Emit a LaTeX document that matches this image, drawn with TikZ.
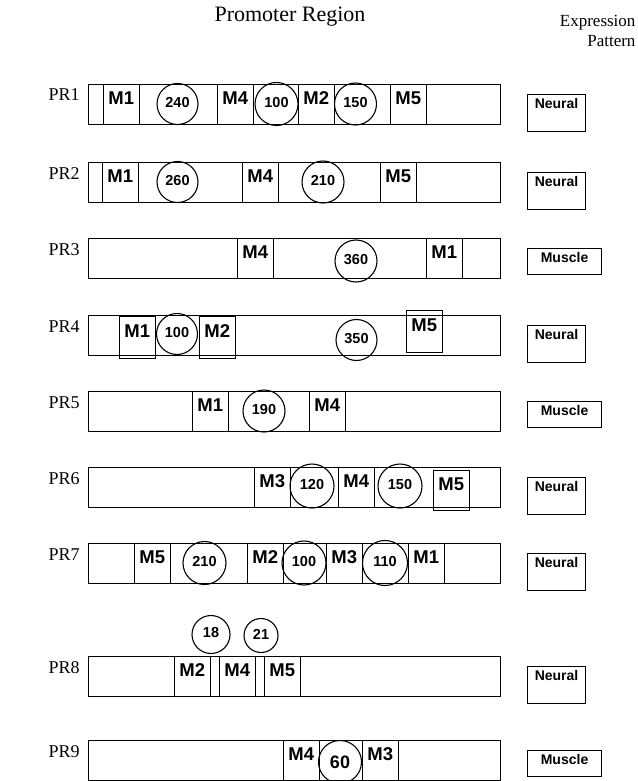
\documentclass[tikz,border=0pt]{standalone}
\usepackage{fontspec}
\setmainfont{Liberation Serif}
\setsansfont{Liberation Sans}
\usetikzlibrary{positioning}

\tikzset{
  bar/.style={draw, anchor=north west, minimum width=412pt, minimum height=40pt, inner sep=0pt},
  motifbox/.style={draw, anchor=north west, minimum width=35.5pt, minimum height=40pt, inner sep=0pt,
    text height=14pt, text depth=14pt, font=\sffamily\bfseries\fontsize{18.5}{20}\selectfont},
  site/.style={draw, circle, inner sep=0pt, minimum size=42pt, text depth=3pt,
    font=\sffamily\bfseries\fontsize{14.5}{16}\selectfont},
  prlabel/.style={anchor=base west, inner sep=0pt, font=\fontsize{18}{20}\selectfont},
  head/.style={inner sep=0pt, font=\fontsize{17}{20}\selectfont},
  neural/.style={draw, anchor=north west, minimum width=58pt, minimum height=37pt, inner sep=0pt,
    text height=11pt, text depth=20pt, font=\sffamily\bfseries\fontsize{14}{16}\selectfont},
  muscle/.style={draw, anchor=north west, minimum width=74pt, minimum height=26pt, inner sep=0pt,
    text height=11pt, text depth=10pt, font=\sffamily\bfseries\fontsize{14}{16}\selectfont}
}

\begin{document}
\begin{tikzpicture}[x=1pt, y=-1pt, line width=1.1pt]
  \useasboundingbox (0,0) rectangle (637,781);

  % headings
  \node[head, anchor=base, font=\fontsize{22}{24}\selectfont] (promoter) at (290,22) {Promoter Region};
  \node[head, anchor=base east] (expr) at (636,27) {Expression};
  \node[head, anchor=base east] (patt) at (636,47) {Pattern};

  % promoter bars
  \foreach \r/\t in {1/84, 2/162, 3/238, 4/315, 5/391, 6/467, 7/543, 8/656, 9/740} {
    \node[bar] (bar\r) at (88,\t) {};
    \node[prlabel] (pr\r) at (48,\t+17) {PR\r};
  }

  % PR1
  \foreach \n/\x in {1/103, 4/217, 2/298, 5/390}
    \node[motifbox] (pr1m\n) at (\x,84) {M\n};
  \node[site, minimum size=41pt] (pr1a) at (177.5,104) {240};
  \node[site, minimum size=43pt] (pr1b) at (276.5,104) {100};
  \node[site] (pr1c) at (355.5,104) {150};

  % PR2
  \foreach \n/\x in {1/102, 4/242, 5/380}
    \node[motifbox] (pr2m\n) at (\x,162) {M\n};
  \node[site, minimum size=41pt] (pr2a) at (177.5,182) {260};
  \node[site] (pr2b) at (323,182) {210};

  % PR3
  \foreach \n/\x in {4/237, 1/426}
    \node[motifbox] (pr3m\n) at (\x,238) {M\n};
  \node[site] (pr3a) at (356,261) {360};

  % PR4
  \foreach \n/\x/\y in {1/119/316, 2/199/316, 5/406/310}
    \node[motifbox, minimum height=42pt] (pr4m\n) at (\x,\y) {M\n};
  \node[site, minimum size=41pt] (pr4a) at (177,334) {100};
  \node[site, minimum size=41pt] (pr4b) at (356.5,340) {350};

  % PR5
  \foreach \n/\x in {1/192, 4/309}
    \node[motifbox] (pr5m\n) at (\x,391) {M\n};
  \node[site] (pr5a) at (264,411) {190};

  % PR6
  \foreach \n/\x/\y in {3/254/467, 4/338/467, 5/433/470}
    \node[motifbox] (pr6m\n) at (\x,\y) {M\n};
  \node[site, minimum size=44pt] (pr6a) at (312,486) {120};
  \node[site, minimum size=44pt] (pr6b) at (400,486) {150};

  % PR7
  \foreach \n/\x in {5/134, 2/247, 3/326, 1/408}
    \node[motifbox] (pr7m\n) at (\x,543) {M\n};
  \node[site, minimum size=43pt] (pr7a) at (204.5,563) {210};
  \node[site, minimum size=44pt] (pr7b) at (304,563) {100};
  \node[site, minimum size=45pt] (pr7c) at (385,563) {110};

  % PR8
  \foreach \n/\x in {2/174, 4/219, 5/264}
    \node[motifbox] (pr8m\n) at (\x,656) {M\n};
  \node[site, minimum size=38pt, text depth=5pt] (pr8a) at (211,634.5) {18};
  \node[site, minimum size=34pt] (pr8b) at (261,635.5) {21};

  % PR9
  \foreach \n/\x in {4/283, 3/362}
    \node[motifbox] (pr9m\n) at (\x,740) {M\n};
  \node[site, minimum size=43pt, text depth=0pt, font=\sffamily\bfseries\fontsize{18}{20}\selectfont] (pr9a) at (340,762) {60};

  % expression patterns
  \foreach \r/\t in {1/84, 2/162, 4/315, 6/467, 7/543, 8/656}
    \node[neural] (ex\r) at (527,\t+10) {Neural};
  \foreach \r/\t in {3/238, 5/391, 9/740}
    \node[muscle] (ex\r) at (527,\t+10) {Muscle};
\end{tikzpicture}
\end{document}
